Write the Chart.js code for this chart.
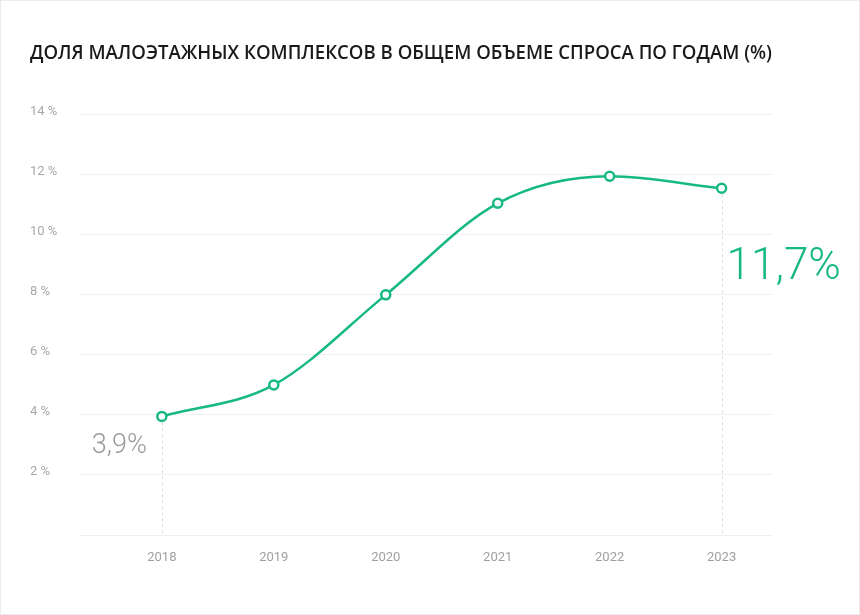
<!DOCTYPE html>
<html>
<head>
<meta charset="utf-8">
<script src="https://cdn.jsdelivr.net/npm/chart.js@4.4.1/dist/chart.umd.min.js"></script>
<style>
  html, body { margin: 0; padding: 0; background: #ffffff; }
  #wrap { position: relative; width: 860px; height: 615px; box-sizing: border-box; border: 1px solid #ececec; }
  canvas { display: block; }
</style>
</head>
<body>
<div id="wrap"><canvas id="c"></canvas></div>
<script>
const chartTitle = 'ДОЛЯ МАЛОЭТАЖНЫХ КОМПЛЕКСОВ В ОБЩЕМ ОБЪЕМЕ СПРОСА ПО ГОДАМ (%)';
const years = ['2018', '2019', '2020', '2021', '2022', '2023'];
const shares = [3.95, 5.0, 8.0, 11.05, 11.95, 11.55];
const yTicks = [0, 2, 4, 6, 8, 10, 12, 14];
const callouts = ['3,9%', '11,7%'];

const GREEN = '#16b883';
const FONT = 'Roboto, "Liberation Sans", sans-serif';

const guidesAndCallouts = {
  id: 'guidesAndCallouts',
  beforeDatasetsDraw(chart) {
    const ctx = chart.ctx;
    const meta = chart.getDatasetMeta(0);
    const bottom = chart.chartArea.bottom;
    ctx.save();
    ctx.strokeStyle = '#dcdcdc';
    ctx.lineWidth = 1;
    ctx.setLineDash([3, 3]);
    [0, meta.data.length - 1].forEach(i => {
      const p = meta.data[i];
      const x = Math.round(p.x) + 0.5;
      ctx.beginPath();
      ctx.moveTo(x, p.y);
      ctx.lineTo(x, bottom);
      ctx.stroke();
    });
    ctx.restore();
  },
  afterDatasetsDraw(chart) {
    const ctx = chart.ctx;
    const meta = chart.getDatasetMeta(0);
    const first = meta.data[0];
    const last = meta.data[meta.data.length - 1];
    ctx.save();
    ctx.textBaseline = 'middle';
    ctx.font = '300 27px ' + FONT;
    ctx.fillStyle = '#9a9a9a';
    ctx.textAlign = 'right';
    ctx.fillText(callouts[0], first.x - 15, first.y + 30);
    ctx.font = '300 44px ' + FONT;
    ctx.fillStyle = GREEN;
    ctx.textAlign = 'left';
    ctx.fillText(callouts[1], last.x + 5, last.y + 80);
    ctx.restore();
  }
};

new Chart(document.getElementById('c'), {
  type: 'line',
  data: {
    datasets: [{
      data: shares.map((v, i) => ({ x: i, y: v })),
      borderColor: GREEN,
      borderWidth: 2.5,
      cubicInterpolationMode: 'monotone',
      pointRadius: 4.5,
      pointHoverRadius: 4.5,
      pointBackgroundColor: '#ffffff',
      pointBorderColor: GREEN,
      pointBorderWidth: 2.5,
      fill: false
    }]
  },
  options: {
    responsive: true,
    maintainAspectRatio: false,
    animation: false,
    events: [],
    layout: { padding: { left: 29, right: 87, top: 0, bottom: 0 } },
    plugins: {
      legend: { display: false },
      tooltip: { enabled: false },
      title: {
        display: true,
        text: chartTitle,
        align: 'start',
        color: '#1a1a1a',
        font: { family: '"Open Sans", Roboto, sans-serif', size: 18.95, weight: '600' },
        padding: { top: 41, bottom: 50 }
      }
    },
    scales: {
      x: {
        type: 'linear',
        min: -0.74,
        max: 5.45,
        afterBuildTicks: (scale) => { scale.ticks = years.map((_, i) => ({ value: i })); },
        afterFit: (scale) => { scale.height = 79; },
        grid: { display: false, drawTicks: false },
        border: { display: false },
        ticks: {
          padding: 15,
          color: '#a0a0a0',
          font: { family: FONT, size: 13 },
          callback: (v) => years[v]
        }
      },
      y: {
        min: 0,
        max: 14,
        afterBuildTicks: (scale) => { scale.ticks = yTicks.map(v => ({ value: v })); },
        afterFit: (scale) => { scale.width = 49; },
        grid: { color: '#f0f0f0', lineWidth: 1, drawTicks: false },
        border: { display: false },
        ticks: {
          crossAlign: 'far',
          padding: 0,
          labelOffset: -3,
          color: '#a8a8a8',
          font: { family: FONT, size: 13 },
          callback: (v) => v === 0 ? '' : v + ' %'
        }
      }
    }
  },
  plugins: [guidesAndCallouts]
});
</script>
</body>
</html>
